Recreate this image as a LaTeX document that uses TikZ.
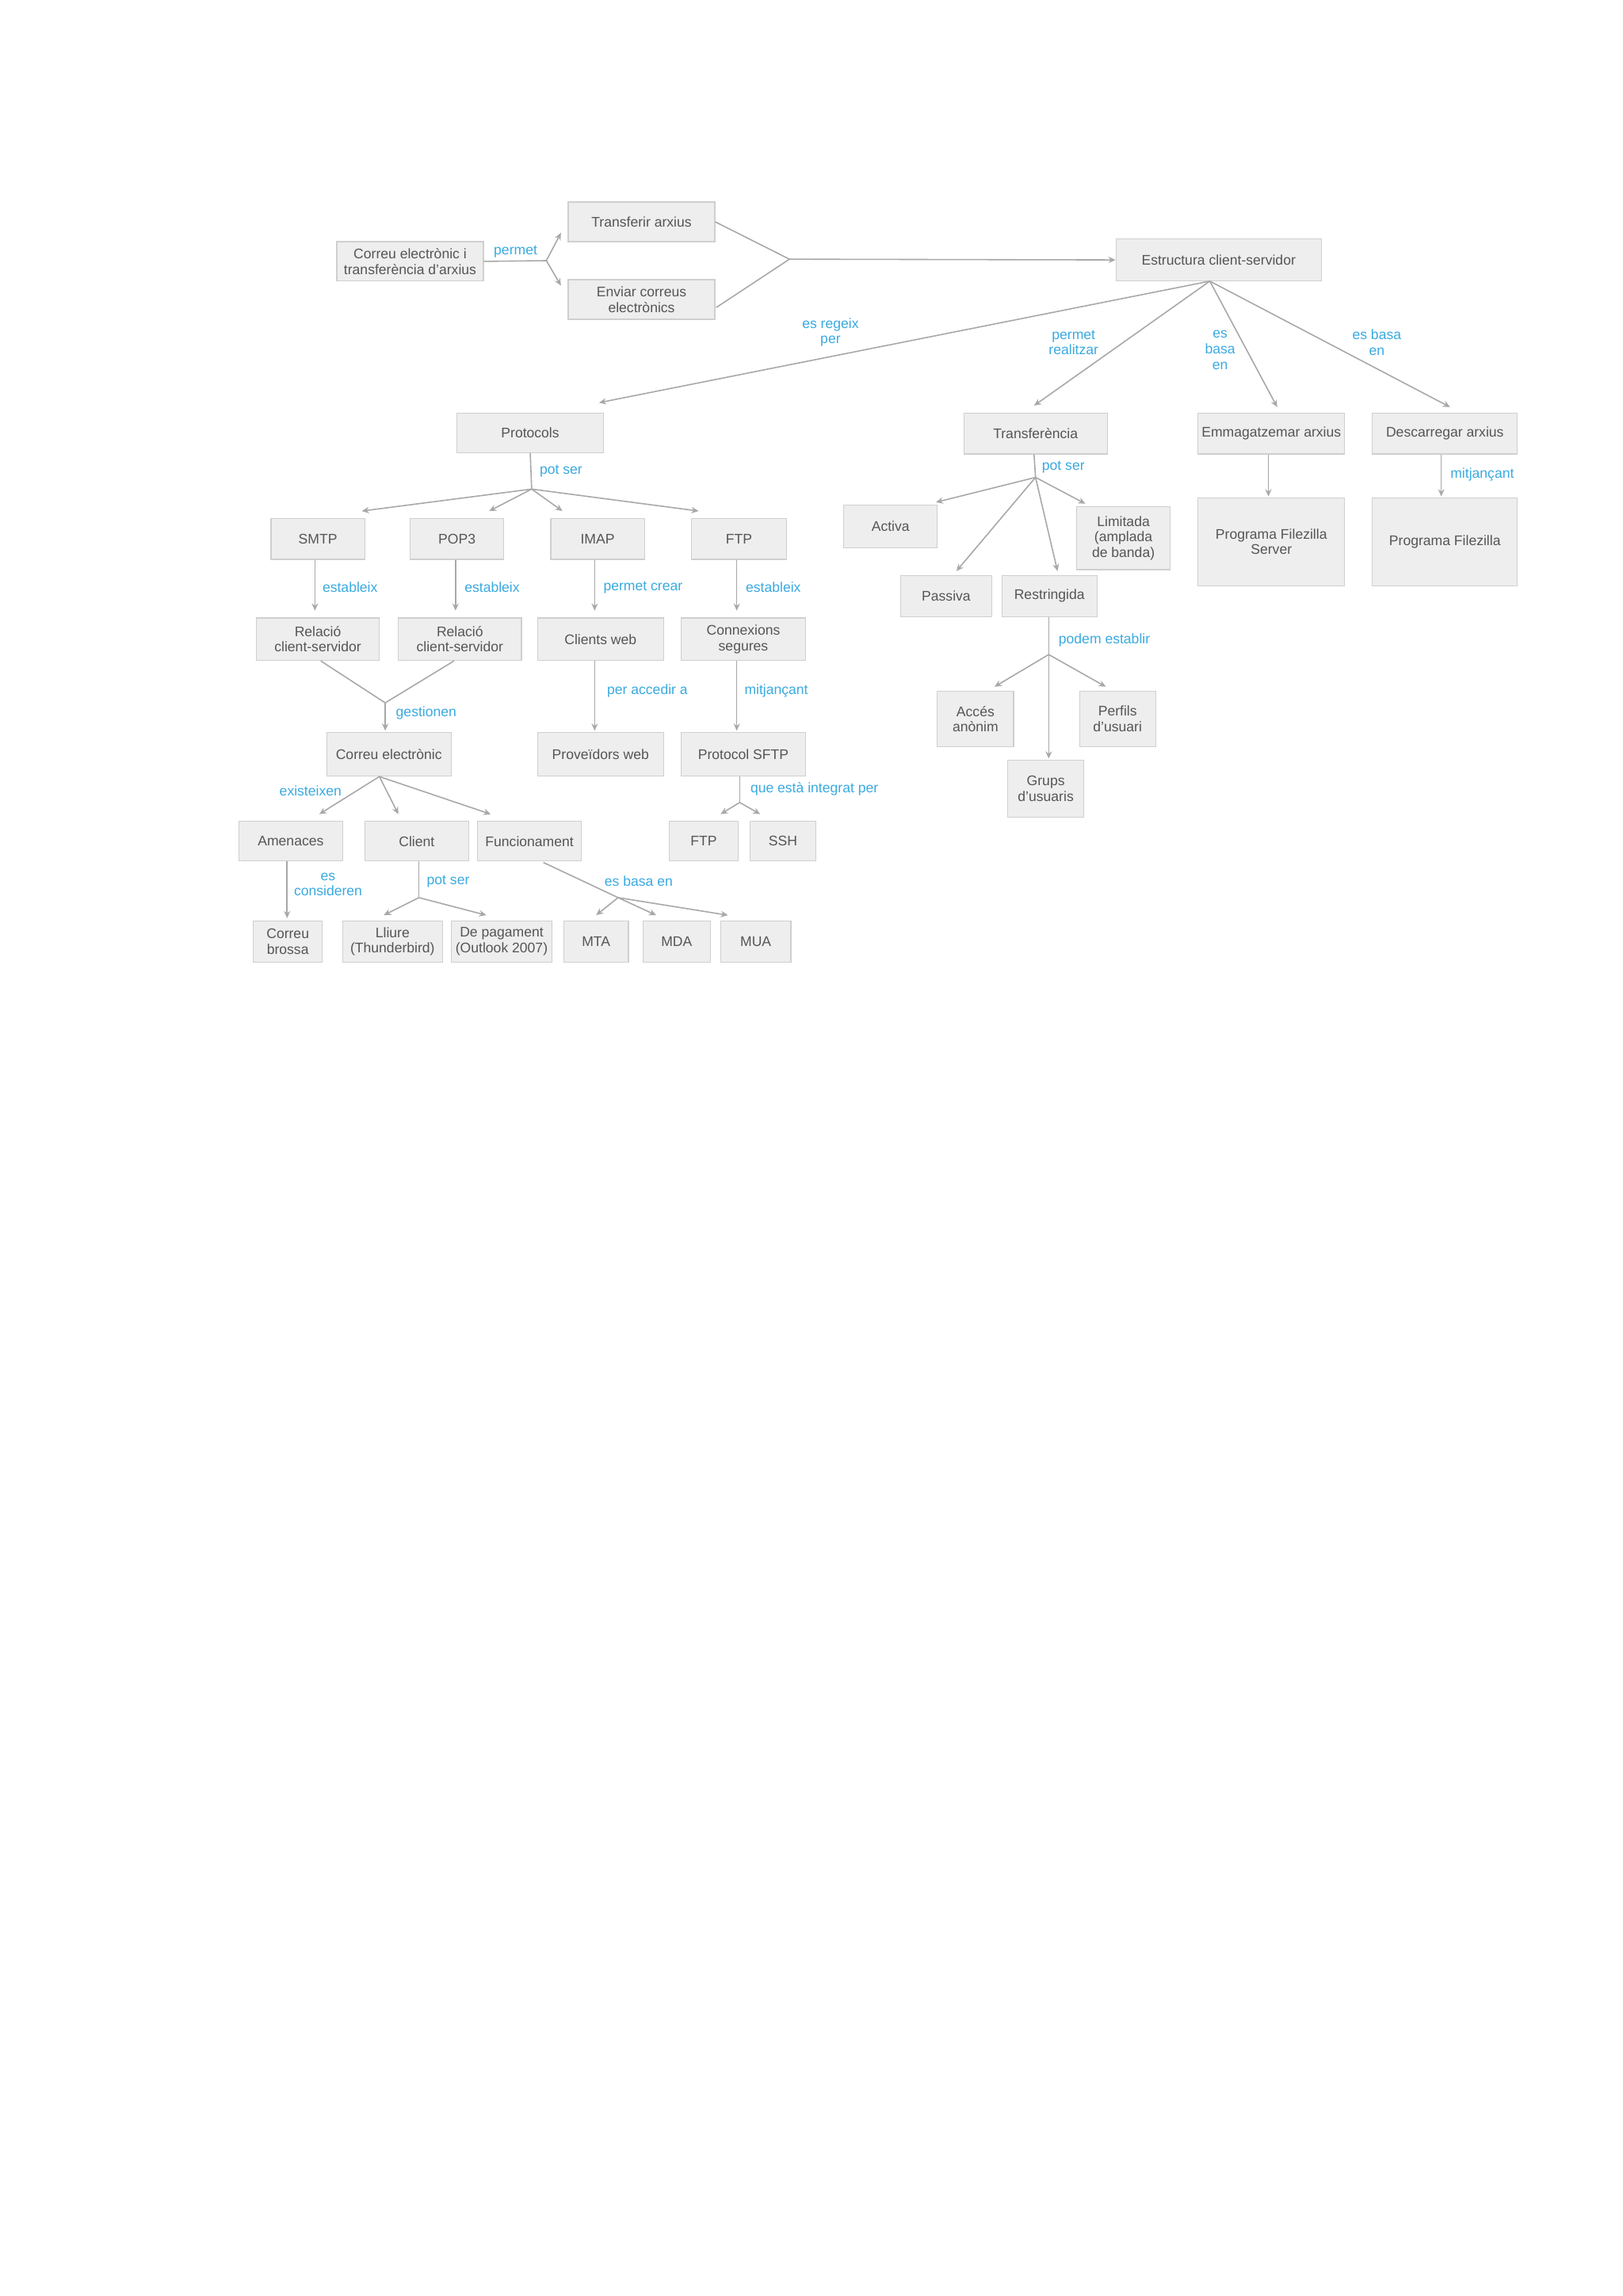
\documentclass[tikz,border=0pt]{standalone}
\usepackage{fontspec}
\setmainfont{Liberation Sans}
\usetikzlibrary{arrows.meta}
\definecolor{boxfill}{HTML}{EEEEEE}
\definecolor{boxline}{HTML}{CFCFCF}
\definecolor{txt}{HTML}{555555}
\definecolor{lnk}{HTML}{A8A8A8}
\definecolor{lbl}{HTML}{3AAAE0}
\begin{document}
\begin{tikzpicture}[x=0.01848cm, y=-0.01848cm,
  font=\fontsize{5}{5.6}\selectfont,
  box/.style={draw=boxline, line width=0.35pt, fill=boxfill, text=txt, align=center, inner sep=0pt},
  sz/.style 2 args={minimum width=#1*0.1848mm, minimum height=#2*0.1848mm},
  con/.style={draw=lnk, line width=0.45pt},
  arr/.style={con, -{Stealth[length=0.9mm,width=0.8mm]}},
  lab/.style={text=lbl, align=center, inner sep=0pt}]
\path[fill=white, use as bounding box] (0,0) rectangle (1108,1568);

% ---- boxes
\node[box, sz={100}{27}] (corr) at (280,178.5) {Correu electrònic i\\transferència d'arxius};
\node[box, sz={100}{27}] (transf) at (438,151.5) {Transferir arxius};
\node[box, sz={100}{27}] (enviar) at (438,204.5) {Enviar correus\\electrònics};
\node[box, sz={140}{29}] (estr) at (832,177.5) {Estructura client-servidor};
\node[box, sz={100}{27}] (prot) at (362,295.5) {Protocols};
\node[box, sz={98}{28}] (transfa) at (707,296) {Transferència};
\node[box, sz={100}{28}] (emmag) at (868,296) {Emmagatzemar arxius};
\node[box, sz={99}{28}] (desc) at (986.5,296) {Descarregar arxius};
\node[box, sz={64}{28}] (smtp) at (217,368) {SMTP};
\node[box, sz={64}{28}] (pop3) at (312,368) {POP3};
\node[box, sz={64}{28}] (imap) at (408,368) {IMAP};
\node[box, sz={65}{28}] (ftp) at (504.5,368) {FTP};
\node[box, sz={64}{29}] (activa) at (608,359.5) {Activa};
\node[box, sz={64}{43}] (limit) at (767,367.5) {Limitada\\(amplada\\de banda)};
\node[box, sz={62}{28}] (passiva) at (646,407) {Passiva};
\node[box, sz={65}{28}] (restr) at (716.5,407) {Restringida};
\node[box, sz={100}{60}] (pfs) at (868,370) {Programa Filezilla\\Server};
\node[box, sz={99}{60}] (pf) at (986.5,370) {Programa Filezilla};
\node[box, sz={84}{29}] (rel1) at (217,436.5) {Relació\\client-servidor};
\node[box, sz={84}{29}] (rel2) at (314,436.5) {Relació\\client-servidor};
\node[box, sz={86}{29}] (cweb) at (410,436.5) {Clients web};
\node[box, sz={85}{29}] (conn) at (507.5,436.5) {Connexions\\segures};
\node[box, sz={85}{30}] (correu) at (265.5,515) {Correu electrònic};
\node[box, sz={86}{30}] (prov) at (410,515) {Proveïdors web};
\node[box, sz={85}{30}] (sftp) at (507.5,515) {Protocol SFTP};
\node[box, sz={52}{38}] (acces) at (666,491) {Accés\\anònim};
\node[box, sz={52}{38}] (perfils) at (763,491) {Perfils\\d'usuari};
\node[box, sz={52}{39}] (grups) at (714,538.5) {Grups\\d'usuaris};
\node[box, sz={71}{27}] (amen) at (198.5,574.5) {Amenaces};
\node[box, sz={71}{27}] (client) at (284.5,574.5) {Client};
\node[box, sz={71}{27}] (func) at (361.5,574.5) {Funcionament};
\node[box, sz={47}{27}] (ftpb) at (480.5,574.5) {FTP};
\node[box, sz={45}{27}] (ssh) at (534.5,574.5) {SSH};
\node[box, sz={47}{28}] (brossa) at (196.5,643) {Correu\\brossa};
\node[box, sz={68}{28}] (lliure) at (268,643) {Lliure\\(Thunderbird)};
\node[box, sz={69}{28}] (pagam) at (342.5,643) {De pagament\\(Outlook 2007)};
\node[box, sz={44}{28}] (mta) at (407,643) {MTA};
\node[box, sz={46}{28}] (mda) at (462,643) {MDA};
\node[box, sz={48}{28}] (mua) at (516,643) {MUA};

% ---- junction points and arrow ends
\coordinate (f1) at (373,178);
\coordinate (m1) at (539,177);
\coordinate (e0) at (826,192);
\coordinate (p0) at (363,334);
\coordinate (g0) at (263,480);
\coordinate (s0) at (505,548);
\coordinate (c0) at (286,613);
\coordinate (u0) at (422,613);
\coordinate (r0) at (707,326);
\coordinate (q0) at (716,447);

% ---- connectors
\draw[con] (corr.east) -- (f1);
\draw[arr] (f1) -- (383,159) coordinate (tTransf);
\draw[arr] (f1) -- (383,195) coordinate (tEnviar);
\draw[con] (transf.east) -- (m1);
\draw[con] (489,210) coordinate (oEnviar) -- (m1);
\draw[arr] (m1) -- (estr.west);

\draw[arr] (e0) -- (409,275) coordinate (tProt);
\draw[arr] (e0) -- (706,277) coordinate (tTransfa);
\draw[arr] (e0) -- (872,278) coordinate (tEmmag);
\draw[arr] (e0) -- (990,278) coordinate (tDesc);

\draw[con] (prot.south) -- (p0);
\draw[arr] (p0) -- (247,349) coordinate (tSmtp);
\draw[arr] (p0) -- (334,349) coordinate (tPop);
\draw[arr] (p0) -- (384,349) coordinate (tImap);
\draw[arr] (p0) -- (477,349) coordinate (tFtp);

\draw[arr] (smtp.south -| 215,0) -- (215,417) coordinate (tRel1);
\draw[arr] (pop3.south -| 311,0) -- (311,417) coordinate (tRel2);
\draw[arr] (imap.south -| 406,0) -- (406,417) coordinate (tCweb);
\draw[arr] (ftp.south -| 503,0) -- (503,417) coordinate (tConn);

\draw[con] (rel1.south -| 219,0) -- (g0);
\draw[con] (rel2.south -| 310,0) -- (g0);
\draw[arr] (g0) -- (263,499) coordinate (tCorreu);
\draw[arr] (cweb.south -| 406,0) -- (406,499) coordinate (tProv);
\draw[arr] (conn.south -| 503,0) -- (503,499) coordinate (tSftp);

\draw[arr] (correu.south -| 259,0) -- (218,556) coordinate (tAmen);
\draw[arr] (correu.south -| 259,0) -- (272,556) coordinate (tClient);
\draw[arr] (correu.south -| 259,0) -- (335,556) coordinate (tFunc);

\draw[con] (sftp.south -| 505,0) -- (s0);
\draw[arr] (s0) -- (492,556) coordinate (tFtpb);
\draw[arr] (s0) -- (519,556) coordinate (tSsh);

\draw[arr] (amen.south -| 196,0) -- (196,627) coordinate (tBrossa);
\draw[con] (client.south -| 286,0) -- (c0);
\draw[arr] (c0) -- (262,625) coordinate (tLliure);
\draw[arr] (c0) -- (332,625) coordinate (tPagam);
\draw[con] (371,589) coordinate (oFunc) -- (u0);
\draw[arr] (u0) -- (407,625) coordinate (tMta);
\draw[arr] (u0) -- (448,625) coordinate (tMda);
\draw[arr] (u0) -- (497,625) coordinate (tMua);

\draw[con] (transfa.south -| 706,0) -- (r0);
\draw[arr] (r0) -- (639,343) coordinate (tActiva);
\draw[arr] (r0) -- (653,390) coordinate (tPassiva);
\draw[arr] (r0) -- (722,390) coordinate (tRestr);
\draw[arr] (r0) -- (741,344) coordinate (tLimit);

\draw[arr] (emmag.south -| 866,0) -- (866,339) coordinate (tPfs);
\draw[arr] (desc.south -| 984,0) -- (984,339) coordinate (tPf);

\draw[con] (restr.south -| 716,0) -- (q0);
\draw[arr] (q0) -- (679,469) coordinate (tAcces);
\draw[arr] (q0) -- (755,469) coordinate (tPerfils);
\draw[arr] (q0) -- (716,518) coordinate (tGrups);

% ---- labels
\node[lab] (l1) at (352,172) {permet};
\node[lab] (l2) at (567,227) {es regeix\\per};
\node[lab] (l3) at (733,234) {permet\\realitzar};
\node[lab] (l4) at (833,239) {es\\basa\\en};
\node[lab] (l5) at (940,234) {es basa\\en};
\node[lab] (l6) at (383,322) {pot ser};
\node[lab] (l7) at (239,401) {estableix};
\node[lab] (l8) at (336,401) {estableix};
\node[lab] (l9) at (439,401) {permet crear};
\node[lab] (l10) at (528,401) {estableix};
\node[lab] (l11) at (291,487) {gestionen};
\node[lab] (l12) at (442,472) {per accedir a};
\node[lab] (l13) at (530,472) {mitjançant};
\node[lab] (l14) at (212,540) {existeixen};
\node[lab] (l15) at (556,539) {que està integrat per};
\node[lab] (l16) at (224,604) {es\\consideren};
\node[lab] (l17) at (306,602) {pot ser};
\node[lab] (l18) at (436,602) {es basa en};
\node[lab] (l19) at (726,319) {pot ser};
\node[lab] (l20) at (1012,324) {mitjançant};
\node[lab] (l21) at (754,437) {podem establir};
\end{tikzpicture}
\end{document}
